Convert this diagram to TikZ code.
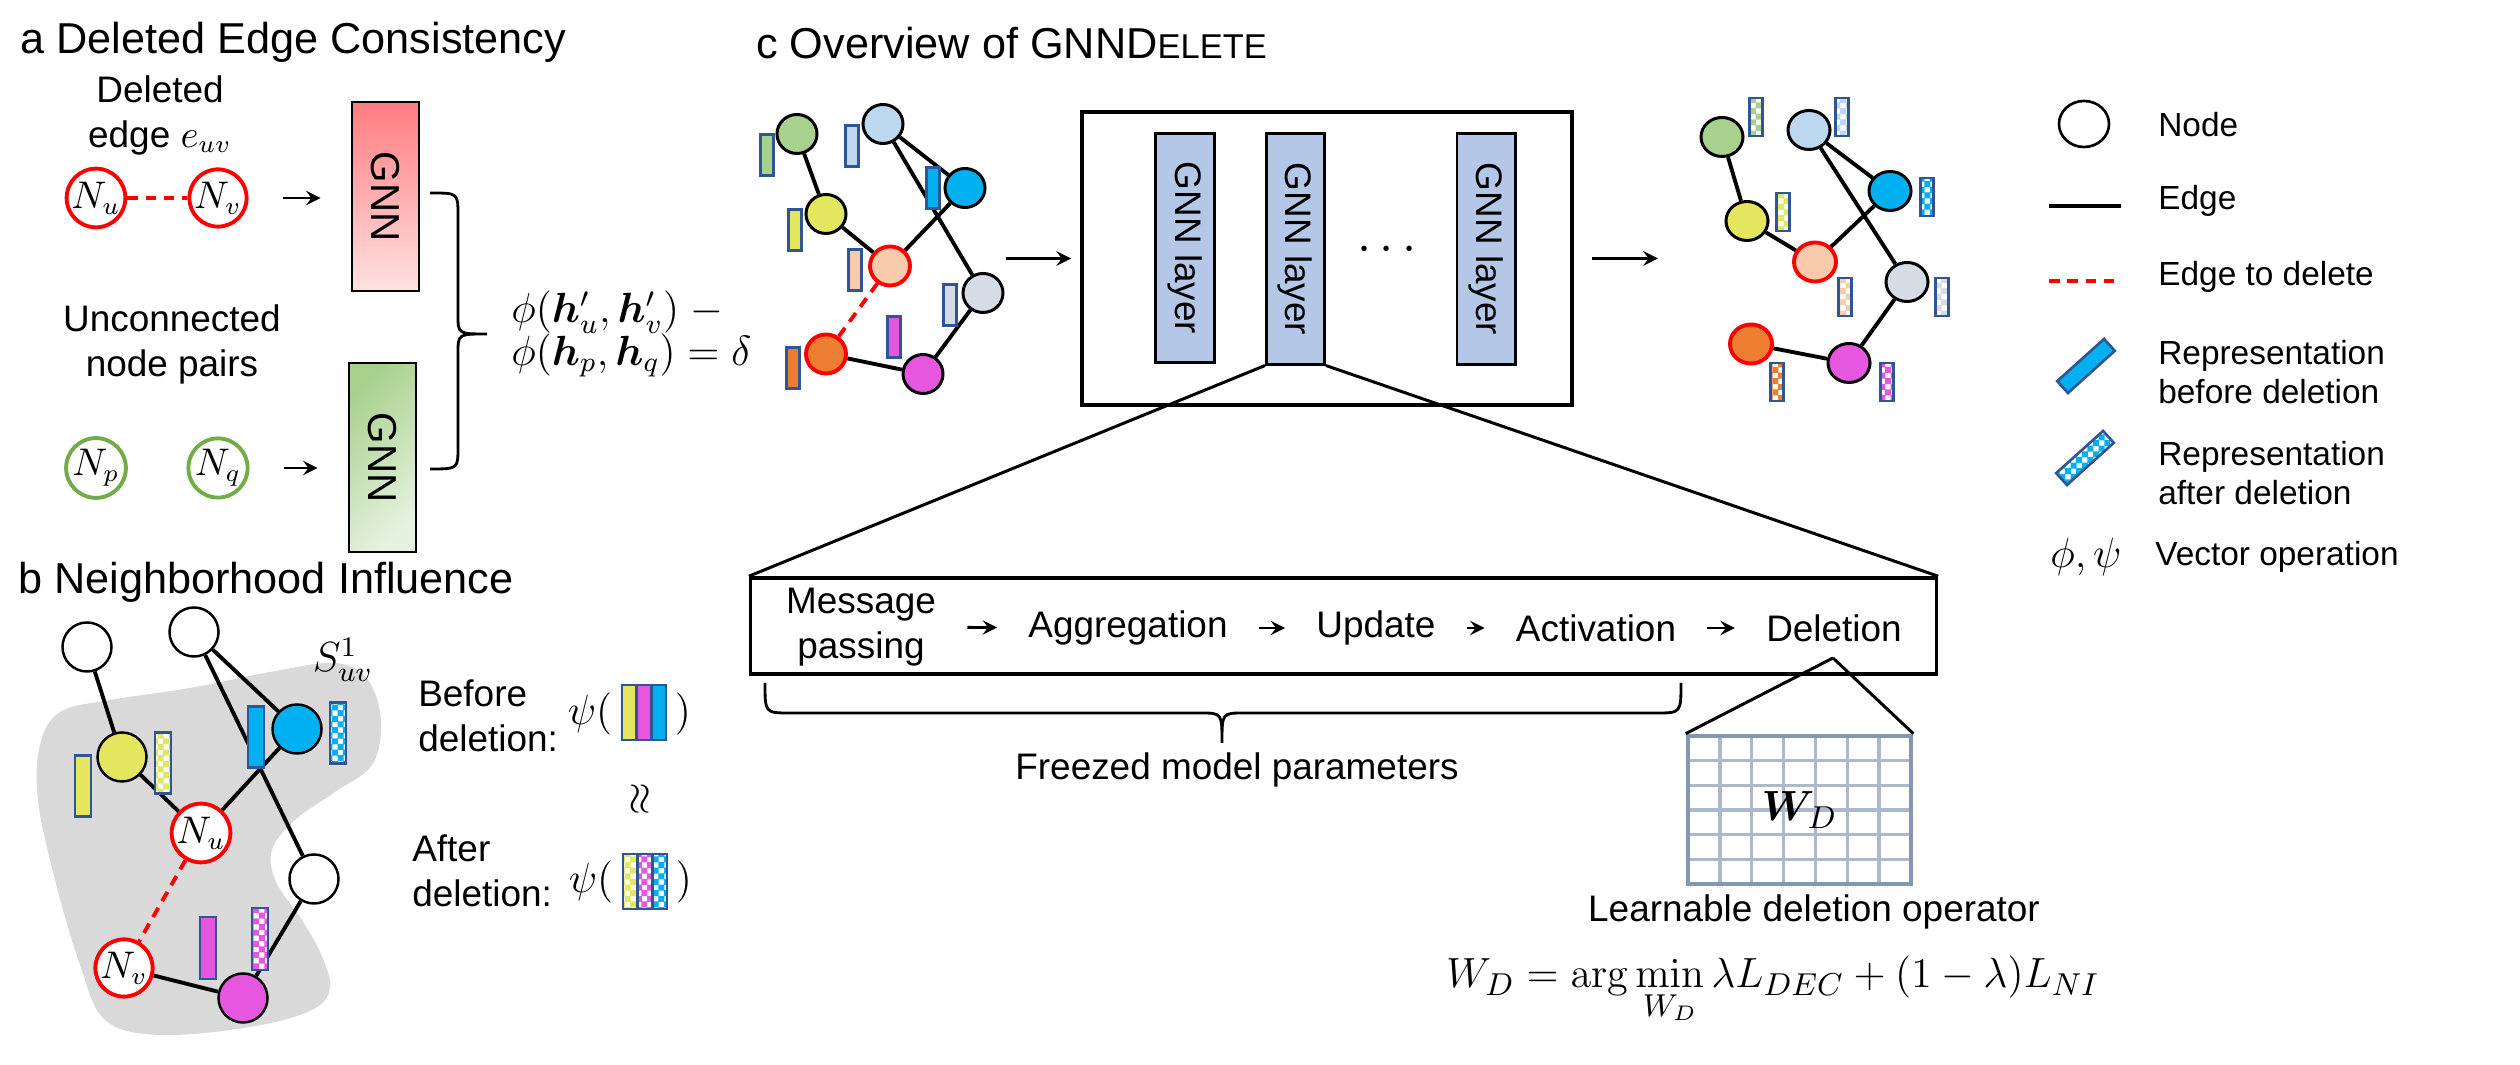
\documentclass[tikz,border=0pt]{standalone}
\usepackage{amsmath}
\usepackage{bm}
\usepackage[no-math]{fontspec}
\setmainfont{Liberation Sans}
\usetikzlibrary{arrows,shapes.geometric,patterns,calc}

\definecolor{cgreen}{HTML}{A9D18E}
\definecolor{clblue}{HTML}{BDD7EE}
\definecolor{cyellow}{HTML}{E4E65E}
\definecolor{cblue}{HTML}{00B0F0}
\definecolor{cpeach}{HTML}{F8CBAD}
\definecolor{cgray}{HTML}{D6DCE5}
\definecolor{corange}{HTML}{ED7D31}
\definecolor{cmagenta}{HTML}{E756DF}
\definecolor{barblue}{HTML}{2F5597}
\definecolor{layerblue}{HTML}{B4C7E7}
\definecolor{blobgray}{HTML}{D9D9D9}
\definecolor{gridout}{HTML}{8497B0}
\definecolor{gridin}{HTML}{ADB9CA}
\definecolor{npgreen}{HTML}{70AD47}
\definecolor{gnnred}{HTML}{FF7C80}
\definecolor{gnnredlt}{HTML}{FFE2E2}
\definecolor{gnngreenlt}{HTML}{E6F2E0}

\pgfdeclarepatternformonly{finecheck}{\pgfqpoint{-.1pt}{-.1pt}}{\pgfqpoint{3.3pt}{3.3pt}}{\pgfqpoint{3.2pt}{3.2pt}}{%
  \pgfpathrectangle{\pgfpointorigin}{\pgfqpoint{1.7pt}{1.7pt}}%
  \pgfpathrectangle{\pgfqpoint{1.6pt}{1.6pt}}{\pgfqpoint{1.7pt}{1.7pt}}%
  \pgfusepath{fill}}

\tikzset{every picture/.style={line width=0.75pt}}

\begin{document}
\begin{tikzpicture}[>=stealth, x=0.01cm, y=-0.01cm,
  ttl/.style={font=\fontsize{12.3}{14}\selectfont, anchor=west, inner sep=0},
  lbl/.style={font=\fontsize{10.5}{12.8}\selectfont, align=center, inner sep=0},
  leg/.style={font=\fontsize{9.5}{11.3}\selectfont, anchor=west, align=left, inner sep=0},
  nd/.style={ellipse, draw, line width=0.85pt, inner sep=0, minimum width=0.40cm, minimum height=0.39cm},
  bnd/.style={circle, draw, fill=white, line width=0.7pt, inner sep=0, minimum size=0.49cm, font=\fontsize{10.5}{10.5}\selectfont},
  rnd/.style={draw=red, line width=1.1pt},
  link/.style={line width=1.1pt},
  dellink/.style={red, line width=1.1pt, dash pattern=on 3pt off 2.2pt},
  bar/.style={rectangle, draw=barblue, line width=0.75pt, inner sep=0, minimum width=0.13cm, minimum height=0.41cm},
  chk/.style={bar, preaction={fill=white}, pattern=finecheck, pattern color=#1},
  lay/.style={rectangle, draw, line width=0.85pt, fill=layerblue, inner sep=0, minimum width=0.58cm, minimum height=2.29cm},
  gnnbox/.style={rectangle, draw, line width=0.8pt, inner sep=0, minimum width=0.67cm, minimum height=1.89cm},
  vtext/.style={rotate=-90, inner sep=0, font=\fontsize{10.5}{10.5}\selectfont},
  flow/.style={->, line width=0.8pt, shorten <=0.3cm, shorten >=0.3cm}]

  \useasboundingbox (0,0) rectangle (2520,1065);

  \node[ttl] (ta) at (19,42) {a Deleted Edge Consistency};
  \node[lbl] (dlab) at (160,115) {Deleted\\edge $e_{uv}$};
  \node[bnd, rnd, minimum size=0.55cm] (Nu) at (96,198) {$N_u$};
  \node[bnd, rnd, minimum size=0.55cm] (Nv) at (218,198) {$N_v$};
  \node[gnnbox, top color=gnnred, bottom color=gnnredlt] (gnnR) at (385.5,196.5) {};
  \node[vtext, font=\fontsize{11.5}{11.5}\selectfont] (gnnRt) at (gnnR) {GNN};
  \node[lbl] (ulab) at (172,344) {Unconnected\\node pairs};
  \node[bnd, draw=npgreen, line width=1.1pt, minimum size=0.55cm] (Np) at (96,468) {$N_p$};
  \node[bnd, draw=npgreen, line width=1.1pt, minimum size=0.55cm] (Nq) at (218,468) {$N_q$};
  \node[gnnbox, top color=cgreen, bottom color=gnngreenlt, shading angle=45] (gnnG) at (382.5,457.5) {};
  \node[vtext, font=\fontsize{11.5}{11.5}\selectfont] (gnnGt) at (gnnG) {GNN};
  \node[anchor=west, align=left, inner sep=0, font=\fontsize{12}{12}\selectfont] (phi) at (510,334)
    {$\phi(\bm{h}'_u,\bm{h}'_v)\;-$\\$\phi(\bm{h}_p,\bm{h}_q)=\delta$};

  \draw[dellink] (Nu) -- (Nv);
  \draw[->, line width=0.8pt, shorten <=0.34cm, shorten >=0.3cm] (Nv) -- (Nv -| gnnR.west);
  \draw[->, line width=0.8pt, shorten <=0.34cm, shorten >=0.3cm] (Nq) -- (Nq -| gnnG.west);
  \draw[line width=0.8pt] (430,193) .. controls (458,193) .. (458,215) -- (458,315)
    .. controls (458,334) .. (487,334) .. controls (458,334) .. (458,353) -- (458,447)
    .. controls (458,469) .. (430,469);

  \node[ttl] (tb) at (17,582) {b Neighborhood Influence};
  \fill[blobgray] plot[smooth cycle, tension=0.6] coordinates {(40,745) (60,712) (110,700) (190,688)
    (270,672) (335,663) (368,680) (381,722) (372,765) (335,792) (295,820) (272,850) (276,882)
    (300,917) (320,952) (330,987) (312,1010) (250,1027) (160,1035) (105,1020) (80,965) (55,880) (38,800)};
  \node[bnd] (w1) at (87,647) {};
  \node[bnd] (w2) at (194,632) {};
  \node[bnd, fill=cyellow] (yb) at (122,757) {};
  \node[bnd, fill=cblue] (bb) at (297,729) {};
  \node[bnd, rnd] (Nub) at (201,833) {$N_u$};
  \node[bnd] (w3) at (314,879) {};
  \node[bnd, rnd] (Nvb) at (124,968) {$N_v$};
  \node[bnd, fill=cmagenta] (mb) at (243,998) {};
  \draw[link] (w1) -- (yb) (yb) -- (Nub) (Nub) -- (bb) (bb) -- (w2) (w2) -- (w3) (w3) -- (mb) (mb) -- (Nvb);
  \draw[dellink] (Nub) -- (Nvb);
  \node[bar, fill=cyellow, minimum width=0.16cm, minimum height=0.61cm] (ybv) at (83,786) {};
  \node[chk=cyellow, minimum width=0.16cm, minimum height=0.61cm] (ybc) at (163,763) {};
  \node[bar, fill=cblue, minimum width=0.16cm, minimum height=0.61cm] (bbv) at (256,737) {};
  \node[chk=cblue, minimum width=0.16cm, minimum height=0.61cm] (bbc) at (338,733) {};
  \node[bar, fill=cmagenta, minimum width=0.16cm, minimum height=0.62cm] (mbv) at (208,948) {};
  \node[chk=cmagenta, minimum width=0.16cm, minimum height=0.62cm] (mbc) at (260,939) {};
  \node[inner sep=0, font=\fontsize{11.5}{11.5}\selectfont] (S) at (343,660) {$S^1_{uv}$};

  \node[lbl, anchor=west, align=left] (bef) at (417,716) {Before\\deletion:};
  \node[font=\fontsize{12}{12}\selectfont, inner sep=0] (psiB) at (590,714) {$\psi($};
  \node[bar, fill=cyellow, minimum width=0.147cm, minimum height=0.55cm] (sb1) at (629.3,712.5) {};
  \node[bar, fill=cmagenta, minimum width=0.147cm, minimum height=0.55cm] (sb2) at (644,712.5) {};
  \node[bar, fill=cblue, minimum width=0.147cm, minimum height=0.55cm] (sb3) at (658.7,712.5) {};
  \node[font=\fontsize{12}{12}\selectfont, inner sep=0] (clB) at (683,714) {$)$};
  \node[rotate=90, inner sep=0, font=\fontsize{13}{13}\selectfont] (apx) at (641,799) {$\approx$};
  \node[lbl, anchor=west, align=left] (aft) at (411,871) {After\\deletion:};
  \node[font=\fontsize{12}{12}\selectfont, inner sep=0] (psiA) at (591,882) {$\psi($};
  \node[chk=cyellow, minimum width=0.147cm, minimum height=0.55cm] (sa1) at (630.3,881.5) {};
  \node[chk=cmagenta, minimum width=0.147cm, minimum height=0.55cm] (sa2) at (645,881.5) {};
  \node[chk=cblue, minimum width=0.147cm, minimum height=0.55cm] (sa3) at (659.7,881.5) {};
  \node[font=\fontsize{12}{12}\selectfont, inner sep=0] (clA) at (684,882) {$)$};

  \node[ttl] (tc) at (755,43) {c Overview of GNND{\fontsize{9.8}{14}\selectfont ELETE}};
  \node[nd, fill=cgreen] (grL) at (797,134) {};
  \node[nd, fill=clblue] (lbL) at (883,124) {};
  \node[nd, fill=cyellow] (yeL) at (826,214) {};
  \node[nd, fill=cblue] (blL) at (965,188) {};
  \node[nd, rnd, fill=cpeach] (peL) at (890,266) {};
  \node[nd, fill=cgray] (gyL) at (983,293) {};
  \node[nd, rnd, fill=corange] (orL) at (826,354) {};
  \node[nd, fill=cmagenta] (maL) at (923,374) {};
  \draw[link] (grL) -- (yeL) (yeL) -- (peL) (peL) -- (blL) (lbL) -- (blL) (lbL) -- (gyL) (gyL) -- (maL) (maL) -- (orL);
  \draw[dellink] (peL) -- (orL);
  \node[bar, fill=cgreen] (grLv) at (767,155) {};
  \node[bar, fill=clblue] (lbLv) at (852,146) {};
  \node[bar, fill=cyellow] (yeLv) at (795,230) {};
  \node[bar, fill=cblue] (blLv) at (933,188) {};
  \node[bar, fill=cpeach] (peLv) at (855,270) {};
  \node[bar, fill=cgray] (gyLv) at (950,305) {};
  \node[bar, fill=cmagenta] (maLv) at (894,337) {};
  \node[bar, fill=corange] (orLv) at (793,368) {};

  \node[draw, line width=0.95pt, inner sep=0, minimum width=4.9cm, minimum height=2.93cm] (big) at (1327,258.5) {};
  \node[lay] (L1) at (1185,248) {};
  \node[vtext] (L1t) at (L1) {GNN layer};
  \node[lay, minimum height=2.3cm] (L2) at (1295.5,249) {};
  \node[vtext] (L2t) at (L2) {GNN layer};
  \node[lay, minimum height=2.3cm] (L3) at (1486,249) {};
  \node[vtext] (L3t) at (L3) {GNN layer};
  \node[font=\fontsize{15}{15}\selectfont] (dots) at (1391,250) {$\cdots$};
  \coordinate (inL) at (1006,258.5);
  \coordinate (outR) at (1658,258.5);
  \draw[->, line width=0.85pt, shorten >=0.09cm] (inL) -- (big.west);
  \draw[->, line width=0.85pt, shorten <=0.18cm] (big.east) -- (outR);

  \node[nd, minimum width=0.42cm, fill=cgreen] (grR) at (1722,137) {};
  \node[nd, minimum width=0.42cm, fill=clblue] (lbR) at (1809,130) {};
  \node[nd, minimum width=0.42cm, fill=cyellow] (yeR) at (1747,221) {};
  \node[nd, minimum width=0.42cm, fill=cblue] (blR) at (1890,191) {};
  \node[nd, minimum width=0.42cm, rnd, fill=cpeach] (peR) at (1815,262) {};
  \node[nd, minimum width=0.42cm, fill=cgray] (gyR) at (1907,282) {};
  \node[nd, minimum width=0.42cm, rnd, fill=corange] (orR) at (1751,344) {};
  \node[nd, minimum width=0.42cm, fill=cmagenta] (maR) at (1849,363) {};
  \draw[link] (grR) -- (yeR) (yeR) -- (peR) (peR) -- (blR) (lbR) -- (blR) (lbR) -- (gyR) (gyR) -- (maR) (maR) -- (orR);
  \node[chk=cgreen, minimum height=0.38cm] (grRv) at (1756,117) {};
  \node[chk=clblue, minimum height=0.38cm] (lbRv) at (1842,117) {};
  \node[chk=cyellow, minimum height=0.38cm] (yeRv) at (1783,212) {};
  \node[chk=cblue, minimum height=0.38cm] (blRv) at (1927,197) {};
  \node[chk=cpeach, minimum height=0.38cm] (peRv) at (1845,297) {};
  \node[chk=cgray, minimum height=0.38cm] (gyRv) at (1942,297) {};
  \node[chk=corange, minimum height=0.38cm] (orRv) at (1777,382) {};
  \node[chk=cmagenta, minimum height=0.38cm] (maRv) at (1887,382) {};

  \node[ellipse, draw, line width=0.75pt, minimum width=0.5cm, minimum height=0.46cm] (legN) at (2084,124) {};
  \node[leg] (legNt) at (2157,125) {Node};
  \coordinate (le1) at (2049,206);
  \coordinate (le2) at (2121,206);
  \draw[link] (le1) -- (le2);
  \node[leg] (legEt) at (2157,201) {Edge};
  \coordinate (ld1) at (2049,281);
  \coordinate (ld2) at (2121,281);
  \draw[dellink] (ld1) -- (ld2);
  \node[leg] (legDt) at (2157,277) {Edge to delete};
  \node[bar, fill=cblue, rotate=42, minimum width=0.63cm, minimum height=0.16cm] (legB) at (2086,366) {};
  \node[leg] (legBt) at (2157,372) {Representation\\before deletion};
  \node[chk=cblue, rotate=42, minimum width=0.63cm, minimum height=0.16cm] (legA) at (2085,458) {};
  \node[leg] (legAt) at (2157,473) {Representation\\after deletion};
  \node[font=\fontsize{12}{12}\selectfont] (legP) at (2086,557) {$\phi,\psi$};
  \node[leg] (legPt) at (2154,557) {Vector operation};

  \node[draw, line width=1pt, inner sep=0, minimum width=11.85cm, minimum height=0.96cm] (pipe) at (1343.5,626) {};
  \node[lbl] (msg) at (861,627) {Message\\passing};
  \node[lbl] (agg) at (1128,628) {Aggregation};
  \node[lbl] (upd) at (1376,628) {Update};
  \node[lbl] (act) at (1596,628) {Activation};
  \node[lbl] (del) at (1834,628) {Deletion};
  \draw[flow] (msg) -- (agg);
  \draw[flow] (agg) -- (upd);
  \draw[flow] (upd) -- (act);
  \draw[flow] (act) -- (del);
  \draw[line width=0.85pt] (L2.south west) -- (pipe.north west);
  \draw[line width=0.85pt] (L2.south east) -- (pipe.north east);

  \draw[line width=0.8pt] (765,683) .. controls (765,713) .. (790,713) -- (1200,713)
    .. controls (1222,713) .. (1222,743) .. controls (1222,713) .. (1244,713) -- (1656,713)
    .. controls (1681,713) .. (1681,683);
  \node[lbl] (frz) at (1237,770) {Freezed model parameters};

  \node[draw=gridout, line width=1.3pt, inner sep=0, minimum width=2.23cm, minimum height=1.48cm,
    font=\fontsize{13}{13}\selectfont,
    path picture={
      \foreach \i in {1,...,6}
        \draw[gridin, line width=1pt] ($(path picture bounding box.north west)!\i/7!(path picture bounding box.north east)$)
          -- ($(path picture bounding box.south west)!\i/7!(path picture bounding box.south east)$);
      \foreach \j in {1,...,5}
        \draw[gridin, line width=1pt] ($(path picture bounding box.north west)!\j/6!(path picture bounding box.south west)$)
          -- ($(path picture bounding box.north east)!\j/6!(path picture bounding box.south east)$);
    }] (wd) at (1799.5,810) {$\bm{W}_D$};
  \coordinate (apex) at (1833,658);
  \draw[line width=0.85pt] (apex) -- (wd.north west);
  \draw[line width=0.85pt] (apex) -- (wd.north east);
  \node[lbl] (wdt) at (1814,912) {Learnable deletion operator};
  \node[anchor=base, inner sep=0, font=\fontsize{13}{13}\selectfont] (loss) at (1773,988)
    {$\displaystyle W_D=\arg\min_{W_D}\lambda L_{DEC}+(1-\lambda)L_{NI}$};
\end{tikzpicture}
\end{document}
